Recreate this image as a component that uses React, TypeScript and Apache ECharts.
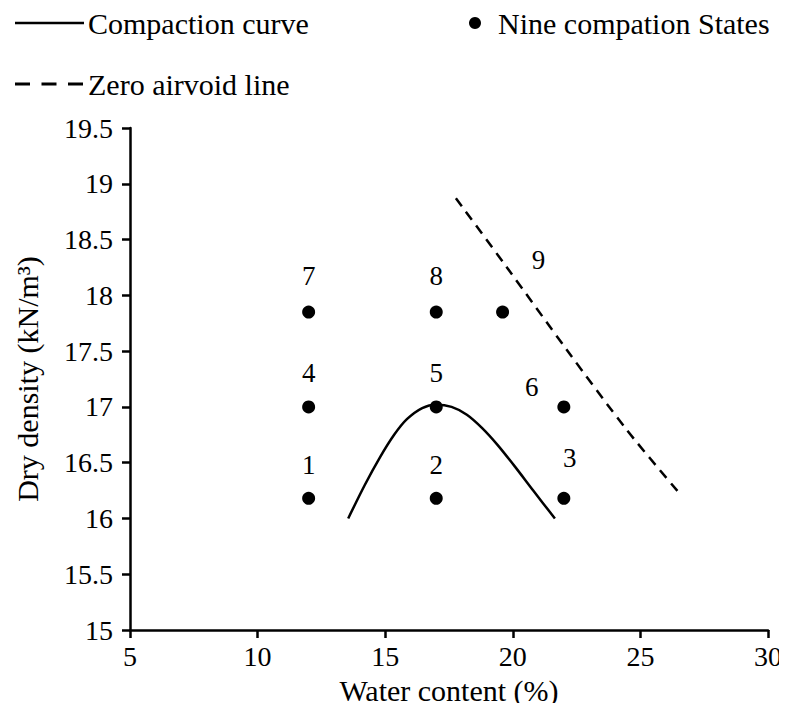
import React, { useEffect, useRef } from "react";
import * as echarts from "echarts";

// Nine compaction states (water content %, dry density kN/m3)
const stateLabels = ["1", "2", "3", "4", "5", "6", "7", "8", "9"];
const stateWater = [12, 17, 22, 12, 17, 22, 12, 17, 19.6];
const stateDensity = [16.18, 16.18, 16.18, 17.0, 17.0, 17.0, 17.85, 17.85, 17.85];

// Compaction curve
const curveWater = [13.55, 14.2, 14.8, 15.35, 15.85, 16.45, 17.0, 17.6, 18.2, 18.8, 19.4, 20.1, 20.8, 21.65];
const curveDensity = [16.0, 16.3, 16.55, 16.75, 16.89, 16.99, 17.02, 17.0, 16.93, 16.81, 16.66, 16.46, 16.25, 16.0];

// Zero air void line
const zavWater = [17.77, 19.77, 22.12, 24.48, 26.55];
const zavDensity = [18.87, 18.25, 17.51, 16.79, 16.22];

const xTicks = { min: 5, max: 30, interval: 5 };
const yTicks = { min: 15, max: 19.5, interval: 0.5 };

const legendNames = ["Compaction curve", "Nine compation States", "Zero airvoid line"];

const FONT = "Liberation Serif";

// label placement around each state marker
const labelOffsets: number[][] = [
  [0, -33], [0, -33], [6, -40],
  [0, -34], [0, -34], [-32, -20],
  [0, -36], [0, -36], [36, -52],
];

export default function App() {
  const ref = useRef<HTMLDivElement>(null);

  useEffect(() => {
    if (!ref.current) return;
    const chart = echarts.init(ref.current, undefined, { renderer: "svg" });

    const states = stateWater.map((w, i) => ({
      value: [w, stateDensity[i]],
      name: stateLabels[i],
      label: { offset: labelOffsets[i] },
    }));

    const legendText = (text: string, x: number, y: number) => ({
      type: "text",
      x,
      y,
      style: {
        text,
        fontFamily: FONT,
        fontSize: 30,
        fill: "#000",
        align: "left",
        verticalAlign: "middle",
      },
    });

    chart.setOption({
      animation: false,
      backgroundColor: "#ffffff",
      textStyle: { fontFamily: FONT, color: "#000" },
      graphic: [
        {
          type: "line",
          shape: { x1: 15, y1: 23, x2: 84, y2: 23 },
          style: { stroke: "#000", lineWidth: 2.5 },
        },
        legendText(legendNames[0], 88, 23),
        {
          type: "circle",
          shape: { cx: 475, cy: 23, r: 6 },
          style: { fill: "#000" },
        },
        legendText(legendNames[1], 498, 23),
        {
          type: "line",
          shape: { x1: 15, y1: 84, x2: 83, y2: 84 },
          style: { stroke: "#000", lineWidth: 3, lineDash: [15, 11.5] },
        },
        legendText(legendNames[2], 88, 84),
      ],
      grid: { left: 130, right: 19, top: 128, bottom: 81, containLabel: false },
      xAxis: {
        type: "value",
        min: xTicks.min,
        max: xTicks.max,
        interval: xTicks.interval,
        name: "Water content (%)",
        nameLocation: "middle",
        nameGap: 45,
        nameTextStyle: { fontFamily: FONT, fontSize: 30, color: "#000" },
        axisLine: { show: true, onZero: false, lineStyle: { color: "#000", width: 2.5 } },
        axisTick: { show: true, inside: false, length: 8, lineStyle: { color: "#000", width: 2.5 } },
        axisLabel: { fontFamily: FONT, fontSize: 28, color: "#000", margin: 12 },
        splitLine: { show: false },
      },
      yAxis: {
        type: "value",
        min: yTicks.min,
        max: yTicks.max,
        interval: yTicks.interval,
        name: "Dry density (kN/m³)",
        nameLocation: "middle",
        nameGap: 88,
        nameTextStyle: { fontFamily: FONT, fontSize: 30, color: "#000" },
        axisLine: { show: true, onZero: false, lineStyle: { color: "#000", width: 2.5 } },
        axisTick: { show: true, inside: false, length: 8, lineStyle: { color: "#000", width: 2.5 } },
        axisLabel: { fontFamily: FONT, fontSize: 28, color: "#000", margin: 17 },
        splitLine: { show: false },
      },
      series: [
        {
          name: legendNames[0],
          type: "line",
          data: curveWater.map((w, i) => [w, curveDensity[i]]),
          smooth: 0.3,
          symbol: "none",
          showSymbol: false,
          lineStyle: { color: "#000", width: 2.5 },
          itemStyle: { color: "#000" },
          z: 2,
        },
        {
          name: legendNames[2],
          type: "line",
          data: zavWater.map((w, i) => [w, zavDensity[i]]),
          smooth: 0.3,
          symbol: "none",
          showSymbol: false,
          lineStyle: { color: "#000", width: 2.5, type: [10, 7] },
          itemStyle: { color: "#000" },
          z: 2,
        },
        {
          name: legendNames[1],
          type: "scatter",
          data: states,
          symbol: "circle",
          symbolSize: 13,
          itemStyle: { color: "#000", opacity: 1 },
          label: {
            show: true,
            position: "inside",
            formatter: (p: any) => p.name,
            fontFamily: FONT,
            fontSize: 27,
            color: "#000",
          },
          z: 3,
        },
      ],
    });

    return () => chart.dispose();
  }, []);

  return <div ref={ref} style={{ width: 787, height: 711, margin: -8 }} />;
}
